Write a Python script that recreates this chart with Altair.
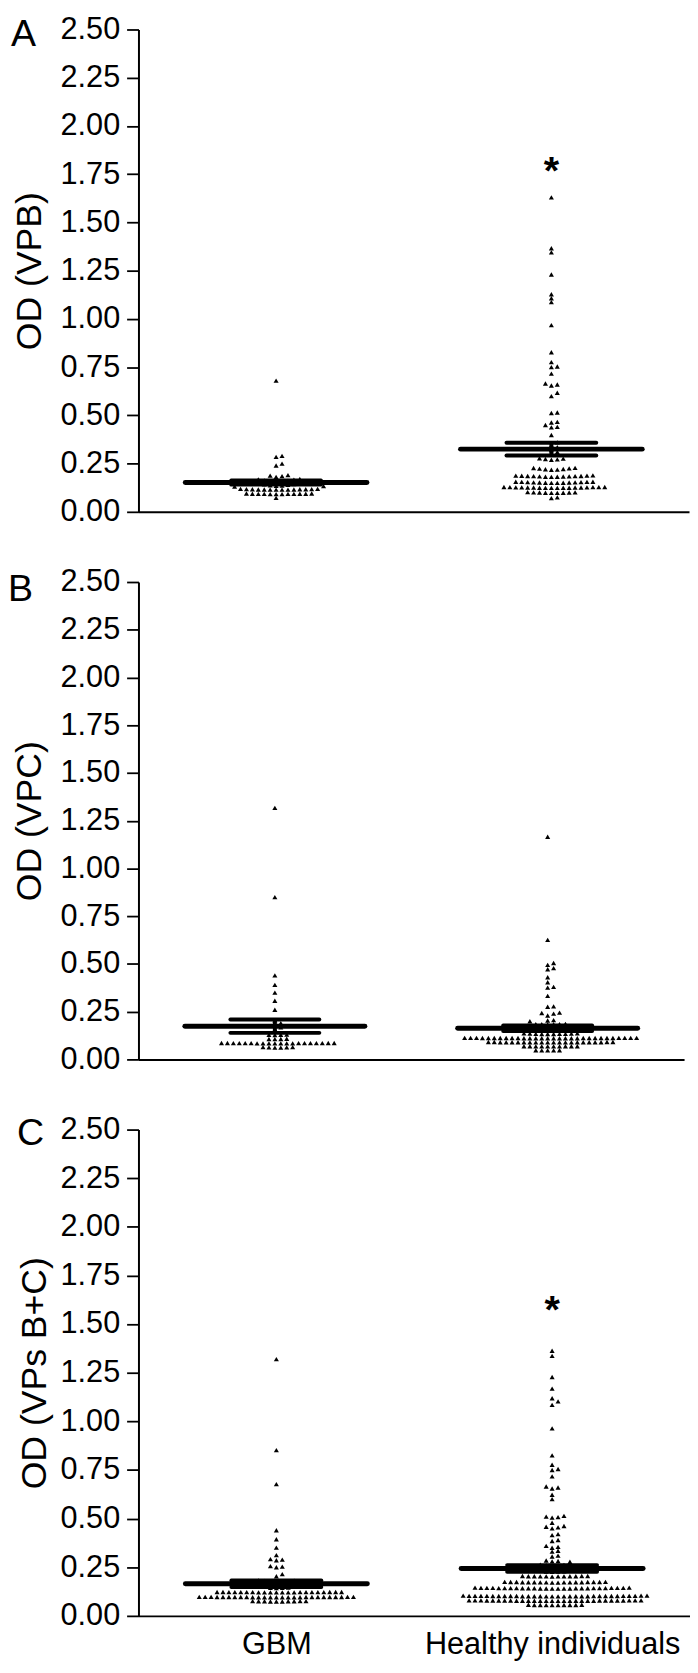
import altair as alt
import pandas as pd

FONT = "Liberation Sans"

# ---------------- data ----------------
groups = ["GBM", "Healthy individuals"]
group_x = [0.5, 1.5]
y_ticks = [0.0, 0.25, 0.5, 0.75, 1.0, 1.25, 1.5, 1.75, 2.0, 2.25, 2.5]

panel_letters = ["A", "B", "C"]
panel_titles = ["OD (VPB)", "OD (VPC)", "OD (VPs B+C)"]

# Panel A  (VPB)
a_gbm = [0.680,
         0.290, 0.285, 0.250, 0.240,
         0.190, 0.188, 0.185, 0.181,
         0.170, 0.168, 0.166, 0.163, 0.161,
         0.158, 0.156, 0.155, 0.153, 0.151, 0.149,
         0.146, 0.144, 0.142, 0.140, 0.138, 0.136, 0.135, 0.133, 0.131,
         0.119, 0.119, 0.118, 0.118, 0.117, 0.117, 0.117, 0.116, 0.116, 0.116, 0.115, 0.115, 0.115, 0.115,
         0.095, 0.095, 0.094, 0.094, 0.094, 0.093, 0.093, 0.093, 0.093, 0.092, 0.092, 0.092,
         0.072]
a_healthy = [1.630, 1.366, 1.345, 1.230, 1.128, 1.107, 1.087, 0.968, 0.827, 0.776, 0.753, 0.750,
             0.716, 0.665, 0.660, 0.655, 0.617, 0.600, 0.515, 0.512, 0.466, 0.463, 0.450, 0.440,
             0.438, 0.398,
             0.360, 0.345, 0.335, 0.320, 0.310, 0.300,
             0.278, 0.276, 0.274, 0.272, 0.270,
             0.228, 0.227, 0.225, 0.224, 0.222, 0.221, 0.219, 0.218,
             0.189, 0.188, 0.188, 0.187, 0.186, 0.186, 0.185, 0.185, 0.184, 0.184, 0.183, 0.182, 0.182, 0.181,
             0.156, 0.156, 0.155, 0.155, 0.154, 0.154, 0.153, 0.153, 0.152, 0.152, 0.151, 0.151, 0.150, 0.150,
             0.129, 0.129, 0.128, 0.128, 0.128, 0.127, 0.127, 0.127, 0.126, 0.126, 0.126, 0.126, 0.125, 0.125,
             0.125, 0.124, 0.124, 0.124,
             0.102, 0.101, 0.101, 0.100, 0.100, 0.099, 0.099, 0.098, 0.098,
             0.075, 0.071]

# Panel B  (VPC)
b_gbm = [1.317, 0.850, 0.440, 0.390, 0.350, 0.307, 0.260,
         0.205, 0.190, 0.178, 0.168, 0.157,
         0.130, 0.129, 0.129, 0.128,
         0.108, 0.107, 0.107, 0.106,
         0.086, 0.086, 0.086, 0.086, 0.085, 0.085, 0.085, 0.085, 0.085, 0.085,
         0.085, 0.085, 0.085, 0.084, 0.084, 0.084, 0.084, 0.084, 0.084, 0.084,
         0.064, 0.064, 0.063, 0.063, 0.062, 0.062]
b_healthy = [1.166, 0.626, 0.505, 0.495, 0.478, 0.472, 0.430, 0.404, 0.380, 0.376, 0.333,
             0.278, 0.276, 0.245, 0.243, 0.240, 0.230, 0.206, 0.204, 0.200,
             0.186, 0.185, 0.185, 0.184, 0.184, 0.183,
             0.168, 0.167, 0.167, 0.166, 0.166, 0.165, 0.165, 0.165, 0.164, 0.164, 0.163, 0.163, 0.162, 0.162,
             0.136, 0.136, 0.135, 0.135, 0.134, 0.134, 0.134, 0.133, 0.133, 0.133,
             0.113, 0.113, 0.113, 0.113, 0.113, 0.113, 0.113, 0.112, 0.112, 0.112,
             0.112, 0.112, 0.112, 0.112, 0.112, 0.112, 0.112, 0.112, 0.112, 0.112,
             0.111, 0.111, 0.111, 0.111, 0.111, 0.111, 0.111, 0.111, 0.111, 0.111,
             0.091, 0.091, 0.091, 0.091, 0.090, 0.090, 0.090, 0.090, 0.090, 0.090, 0.090,
             0.090, 0.090, 0.090, 0.089, 0.089, 0.089, 0.089, 0.089, 0.089, 0.089, 0.089,
             0.069, 0.069, 0.069, 0.069, 0.069, 0.068, 0.068, 0.068, 0.068, 0.068,
             0.048, 0.048, 0.047, 0.047, 0.047]

# Panel C  (VPs B+C)
c_gbm = [1.320, 0.852, 0.677, 0.440, 0.394, 0.351, 0.312, 0.292, 0.289, 0.286, 0.256, 0.253,
         0.250, 0.215, 0.204,
         0.182, 0.181, 0.180, 0.179, 0.178,
         0.164, 0.163, 0.162, 0.162, 0.161, 0.160,
         0.145, 0.144, 0.144, 0.143,
         0.123, 0.123, 0.123, 0.123, 0.123, 0.122, 0.122, 0.122, 0.122, 0.122, 0.122,
         0.122, 0.122, 0.122, 0.122, 0.121, 0.121, 0.121, 0.121, 0.121, 0.121, 0.121,
         0.098, 0.098, 0.098, 0.098, 0.098, 0.097, 0.097, 0.097, 0.097, 0.097, 0.097, 0.097, 0.097, 0.097,
         0.097, 0.097, 0.097, 0.097, 0.096, 0.096, 0.096, 0.096, 0.096, 0.096, 0.096, 0.096, 0.096,
         0.076, 0.076, 0.076, 0.075, 0.075, 0.075, 0.075, 0.074, 0.074, 0.074]
c_healthy = [1.363, 1.337, 1.228, 1.168, 1.119, 1.103, 1.085, 0.964, 0.825, 0.777, 0.755, 0.750,
             0.717, 0.665, 0.660, 0.655, 0.623, 0.600,
             0.514, 0.510, 0.508, 0.505, 0.479, 0.462, 0.458, 0.455, 0.450,
             0.420, 0.415, 0.390, 0.385, 0.360, 0.355, 0.350, 0.335, 0.330, 0.310, 0.305,
             0.285, 0.282, 0.280, 0.278,
             0.263, 0.262, 0.261, 0.260, 0.259,
             0.246, 0.245, 0.245, 0.244, 0.243,
             0.229, 0.228, 0.228, 0.227,
             0.205, 0.205, 0.205, 0.204, 0.204, 0.204, 0.204, 0.203, 0.203, 0.203, 0.203, 0.202,
             0.175, 0.175, 0.174, 0.174, 0.174, 0.174, 0.174, 0.173, 0.173, 0.173, 0.173, 0.173,
             0.172, 0.172, 0.172, 0.172, 0.171, 0.171,
             0.145, 0.145, 0.144, 0.144, 0.144, 0.144, 0.144, 0.144, 0.143, 0.143, 0.143, 0.143,
             0.143, 0.143, 0.143, 0.142, 0.142, 0.142, 0.142, 0.142, 0.142, 0.141, 0.141, 0.141,
             0.141, 0.140, 0.140,
             0.104, 0.104, 0.104, 0.103, 0.103, 0.103, 0.103, 0.103, 0.103, 0.103, 0.102, 0.102,
             0.102, 0.102, 0.102, 0.102, 0.102, 0.102, 0.102, 0.102, 0.101, 0.101, 0.101, 0.101,
             0.101, 0.101, 0.101, 0.101, 0.100, 0.100, 0.100, 0.100,
             0.080, 0.080, 0.080, 0.080, 0.080, 0.080, 0.079, 0.079, 0.079, 0.079, 0.079, 0.079,
             0.079, 0.079, 0.079, 0.079, 0.078, 0.078, 0.078, 0.078, 0.078, 0.078, 0.078, 0.078,
             0.077, 0.077, 0.077, 0.077, 0.077, 0.077,
             0.057, 0.057, 0.056, 0.056, 0.056, 0.056, 0.056, 0.055, 0.055, 0.055]

# mean and SEM: [GBM, Healthy]
means_a, sems_a = [0.152, 0.325], [0.011, 0.033]
means_b, sems_b = [0.174, 0.163], [0.035, 0.0145]
means_c, sems_c = [0.165, 0.244], [0.017, 0.017]

# significance marks (above Healthy individuals)
star_a = 1.80
star_c = 1.606
star_text = "*"


# ---------------- helpers ----------------
def swarm_px(vals, ppy, spacing=6.0, min_dy=3.8):
    """Deterministic dot-plot layout: horizontal pixel offsets for each value."""
    order = sorted(range(len(vals)), key=lambda i: vals[i])
    cand = [0]
    for k in range(1, 80):
        cand += [k, -k]
    placed = []
    out = [0.0] * len(vals)
    for i in order:
        y = vals[i] * ppy
        chosen = 0
        for c in cand:
            if all(not (s == c and abs(py - y) < min_dy) for py, s in placed):
                chosen = c
                break
        placed.append((y, chosen))
        out[i] = chosen * spacing
    return out


def make_panel(letter, title, gbm, healthy, means, sems, star, W, H,
               letter_x, letter_y, title_x, show_labels):
    ppy = H / 2.5
    ppx = W / 2.0
    rows = []
    for g, cx, vals in zip(groups, group_x, [gbm, healthy]):
        offs = swarm_px(vals, ppy)
        for v, o in zip(vals, offs):
            rows.append({"group": g, "xpos": cx + o / ppx, "od": v})
    pts = pd.DataFrame(rows)

    stats = pd.DataFrame({"group": groups, "center": group_x, "mean": means, "sem": sems})
    sem_df = pd.DataFrame({
        "center": group_x + group_x,
        "od": [m - s for m, s in zip(means, sems)] + [m + s for m, s in zip(means, sems)],
    })

    xscale = alt.Scale(domain=[0, 2], nice=False, zero=False)
    yscale = alt.Scale(domain=[0, 2.5], nice=False, zero=True)

    if show_labels:
        label_expr = f"datum.value < 1 ? '{groups[0]}' : '{groups[1]}'"
        xaxis = alt.Axis(values=group_x, labelExpr=label_expr, ticks=False, tickSize=0,
                         grid=False, domainColor="black", domainWidth=2,
                         labelFontSize=31, labelColor="black", labelFont=FONT,
                         labelPadding=14, labelBaseline="top", labelLimit=0,
                         labelOverlap=False, title=None)
    else:
        xaxis = alt.Axis(labels=False, ticks=False, tickSize=0, grid=False,
                         domainColor="black", domainWidth=2, title=None)

    yaxis = alt.Axis(values=y_ticks, format=".2f", tickSize=12, tickWidth=1.8,
                     tickColor="black", domainColor="black", domainWidth=2,
                     labelFontSize=31, labelColor="black", labelFont=FONT,
                     labelPadding=7, grid=False, labelOverlap=False,
                     title=title, titleFontSize=36,
                     titleFontWeight="normal", titleColor="black", titleFont=FONT,
                     titleAngle=270, titleX=title_x, titleY=H / 2,
                     titleAlign="center", titleBaseline="middle")

    def X(f):
        return alt.X(f, type="quantitative", scale=xscale, axis=xaxis)

    def Y(f):
        return alt.Y(f, type="quantitative", scale=yscale, axis=yaxis)

    points = alt.Chart(pts).mark_point(
        shape="triangle-up", filled=True, size=26, color="black", opacity=1, strokeWidth=0
    ).encode(x=X("xpos"), y=Y("od"))

    mean_rule = alt.Chart(stats).transform_calculate(
        xa="datum.center - 0.33", xb="datum.center + 0.33"
    ).mark_rule(strokeWidth=5, strokeCap="round", color="black").encode(
        x=X("xa"), x2="xb:Q", y=Y("mean"))

    sem_rule = alt.Chart(sem_df).transform_calculate(
        xa="datum.center - 0.163", xb="datum.center + 0.163"
    ).mark_rule(strokeWidth=4, strokeCap="round", color="black").encode(
        x=X("xa"), x2="xb:Q", y=Y("od"))

    vbar = alt.Chart(stats).transform_calculate(
        lo="datum.mean - datum.sem", hi="datum.mean + datum.sem"
    ).mark_rule(strokeWidth=4, color="black").encode(
        x=X("center"), y=Y("lo"), y2="hi:Q")

    letter_layer = alt.Chart(pd.DataFrame({"t": [letter]})).mark_text(
        align="left", baseline="alphabetic", fontSize=38, color="black", font=FONT
    ).encode(x=alt.value(letter_x), y=alt.value(letter_y), text="t:N")

    layers = [points, mean_rule, sem_rule, vbar, letter_layer]
    if star is not None:
        star_df = pd.DataFrame({"xpos": [group_x[1]], "od": [star], "t": [star_text]})
        layers.append(alt.Chart(star_df).mark_text(
            fontSize=40, fontWeight="bold", baseline="alphabetic", dy=20,
            color="black", font=FONT
        ).encode(x=X("xpos"), y=Y("od"), text="t:N"))

    return alt.layer(*layers).properties(width=W, height=H)


pa = make_panel(panel_letters[0], panel_titles[0], a_gbm, a_healthy, means_a, sems_a, star_a,
                557, 488, -129, 17, -110, False)
pb = make_panel(panel_letters[1], panel_titles[1], b_gbm, b_healthy, means_b, sems_b, None,
                552, 483, -132, 19, -110, False)
pc = make_panel(panel_letters[2], panel_titles[2], c_gbm, c_healthy, means_c, sems_c, star_c,
                558, 492, -123, 16, -105, True)

chart = alt.vconcat(pa, pb, pc, spacing=40).properties(
    padding={"top": -4, "left": 0, "right": 0, "bottom": 0}
).configure(font=FONT).configure_view(stroke=None)

chart.save("out.html", embed_options={"renderer": "svg", "actions": False})
